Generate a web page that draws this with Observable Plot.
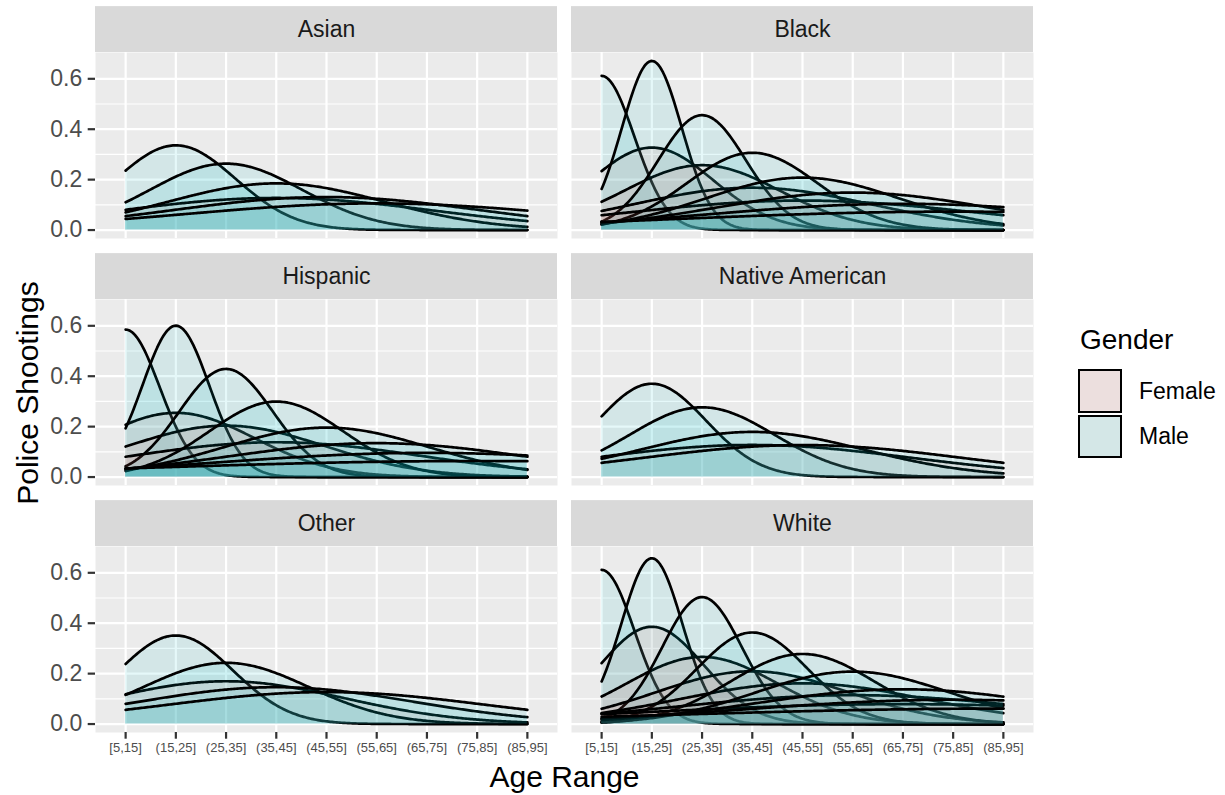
<!DOCTYPE html>
<html><head><meta charset="utf-8">
<script src="https://cdn.jsdelivr.net/npm/d3@7"></script>
<script src="https://cdn.jsdelivr.net/npm/@observablehq/plot@0.6"></script>
<style>
body{margin:0;background:#fff;font-family:"Liberation Sans",Arial,Helvetica,sans-serif;}
#wrap{position:relative;width:1225px;height:795px;overflow:hidden;}
#wrap svg{position:absolute;left:0;top:0;}
.t{position:absolute;white-space:nowrap;line-height:1;}
.key{position:absolute;box-sizing:border-box;border:2.4px solid #000;width:43.5px;height:43.5px;}
</style></head><body><div id="wrap"></div>
<script>
// ---- data (counts of police shootings per age range) ----
const ageRanges = ["[5,15]","(15,25]","(25,35]","(35,45]","(45,55]","(55,65]","(65,75]","(75,85]","(85,95]"];
const races = ["Asian","Black","Hispanic","Native American","Other","White"];
const genders = ["Female","Male"];
const genderColors = ["#F8766D","#00BFC4"];

const asianFemale    = [0,0,0,2,0,0,0,0,0];
const asianMale      = [0,8,18,13,7,6,0,0,0];
const blackFemale    = [0,7,16,8,4,0,0,0,0];
const blackMale      = [5,254,279,162,71,33,12,4,0];
const hispanicFemale = [0,2,5,3,0,0,0,0,0];
const hispanicMale   = [4,146,206,144,53,20,8,2,0];
const nativeFemale   = [0,0,0,2,0,0,0,0,0];
const nativeMale     = [0,13,23,11,6,0,0,0,0];
const otherFemale    = [0,0,2,0,0,0,0,0,0];
const otherMale      = [0,10,12,4,6,0,0,0,0];
const whiteFemale    = [0,16,19,24,20,9,3,0,0];
const whiteMale      = [5,230,460,378,303,177,49,16,3];

const countTables = {
  "Asian": [asianFemale, asianMale],
  "Black": [blackFemale, blackMale],
  "Hispanic": [hispanicFemale, hispanicMale],
  "Native American": [nativeFemale, nativeMale],
  "Other": [otherFemale, otherMale],
  "White": [whiteFemale, whiteMale]
};

// ---- density stat (as ggplot2 stat_density on a discrete x: one group per age range x gender,
// gaussian kernel, bw.nrd0, evaluated over the full x range 1..9) ----
const yTicks = [0, 0.2, 0.4, 0.6];
const yMinor = [0.1, 0.3, 0.5];
const xPos = ageRanges.map((d, i) => i + 1);
const xDomain = [1 - 0.6, ageRanges.length + 0.6];
const groups = [];
races.forEach((race, r) => {
  const tables = countTables[race];
  ageRanges.forEach((age, a) => {
    tables.forEach((counts, g) => {
      const n = counts[a];
      if (n < 2) return;
      const k = a + 1;
      const bw = 0.9 * k * Math.pow(n, -0.2);
      const pts = d3.range(256).map(i => {
        const x = 1 + (ageRanges.length - 1) * i / 255;
        return {x, density: Math.exp(-0.5 * ((x - k) / bw) ** 2) / (bw * Math.sqrt(2 * Math.PI)), fx: r % 2, fy: Math.floor(r / 2)};
      });
      groups.push({race, age, gender: genders[g], color: genderColors[g], pts});
    });
  });
});
const maxD = d3.max(groups, g => d3.max(g.pts, p => p.density));
const yDomain = [-0.05 * maxD, 1.05 * maxD];

// ---- layout ----
const W = 1225, H = 795;
const mL = 95, mR = 191, mT = 52, mB = 62;
const gapX = 14, panelW = (W - mL - mR - gapX) / 2;
const panelH = 186.5, gapY = (H - mT - mB - 3 * panelH) / 2;
const stripPx = 46;
const stripY = stripPx / panelH * (yDomain[1] - yDomain[0]);
const stripData = races.map((race, i) => ({race, fx: i % 2, fy: Math.floor(i / 2)}));

const marks = [
  Plot.frame({fill: "#EBEBEB", stroke: null}),
  Plot.gridY({ticks: yMinor, stroke: "#FFFFFF", strokeOpacity: 1, strokeWidth: 1.1}),
  Plot.gridY({ticks: yTicks, stroke: "#FFFFFF", strokeOpacity: 1, strokeWidth: 2.2}),
  Plot.gridX({ticks: xPos, stroke: "#FFFFFF", strokeOpacity: 1, strokeWidth: 2.2})
];
for (const g of groups) {
  marks.push(Plot.areaY(g.pts, {x: "x", y: "density", fx: "fx", fy: "fy", fill: g.color, fillOpacity: 0.1}));
  marks.push(Plot.lineY(g.pts, {x: "x", y: "density", fx: "fx", fy: "fy", stroke: "#000000", strokeWidth: 2.7}));
}
marks.push(
  Plot.rect(stripData, {x1: xDomain[0], x2: xDomain[1], y1: yDomain[1], y2: yDomain[1] + stripY, fx: "fx", fy: "fy", fill: "#D9D9D9"}),
  Plot.text(stripData, {x: (xDomain[0] + xDomain[1]) / 2, y: yDomain[1] + stripY / 2, text: "race", fx: "fx", fy: "fy", fontSize: 23, fill: "#1A1A1A"}),
  Plot.axisY({ticks: yTicks, tickFormat: d3.format(".1f"), tickSize: 7.3, tickPadding: 6, fontSize: 23, fill: "#4D4D4D", stroke: "#333333", strokeWidth: 2.2, label: null}),
  Plot.axisX({ticks: xPos, tickFormat: d => ageRanges[d - 1], tickSize: 6.7, tickPadding: 4, fontSize: 13, fill: "#4D4D4D", stroke: "#333333", strokeWidth: 2.2, label: null})
);

const chart = Plot.plot({
  width: W, height: H,
  marginLeft: mL, marginRight: mR, marginTop: mT, marginBottom: mB,
  x: {domain: xDomain},
  y: {domain: yDomain},
  fx: {domain: [0, 1], paddingInner: gapX / (panelW + gapX), paddingOuter: 0, axis: null},
  fy: {domain: [0, 1, 2], paddingInner: gapY / (panelH + gapY), paddingOuter: 0, axis: null},
  style: {fontFamily: "Liberation Sans, Arial, Helvetica, sans-serif", background: "transparent", overflow: "visible"},
  marks
});
const wrap = document.getElementById("wrap");
wrap.appendChild(chart);

// ---- titles and legend ----
function addText(txt, css) {
  const d = document.createElement("div");
  d.className = "t";
  d.textContent = txt;
  Object.assign(d.style, css);
  wrap.appendChild(d);
  return d;
}
addText("Police Shootings", {left: "28px", top: (mT + (H - mB - mT) / 2) + "px", fontSize: "30px", color: "#000", transform: "translate(-50%,-50%) rotate(-90deg)"});
addText("Age Range", {left: (mL + (W - mL - mR) / 2) + "px", top: "777px", fontSize: "30px", color: "#000", transform: "translate(-50%,-50%)"});
addText("Gender", {left: "1080px", top: "326px", fontSize: "28px", color: "#000"});
const keyFills = ["#ECDFDE", "#D4E7E7"];
genders.forEach((g, i) => {
  const k = document.createElement("div");
  k.className = "key";
  k.style.left = "1078px";
  k.style.top = (369 + i * 45.8) + "px";
  k.style.background = keyFills[i];
  wrap.appendChild(k);
  addText(g, {left: "1139px", top: (390.5 + i * 45.8) + "px", fontSize: "23px", color: "#000", transform: "translateY(-50%)"});
});
</script></body></html>
